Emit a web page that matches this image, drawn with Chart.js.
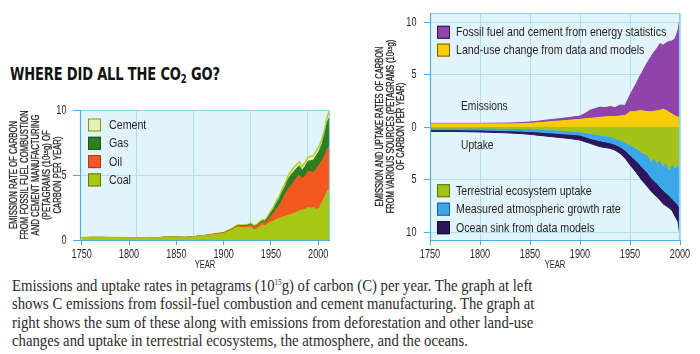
<!DOCTYPE html>
<html>
<head>
<meta charset="utf-8">
<script src="https://cdn.jsdelivr.net/npm/chart.js@4.4.1/dist/chart.umd.min.js"></script>
<style>
  body { margin: 0; background: #fff; width: 700px; height: 354px; overflow: hidden; position: relative; }
  canvas { position: absolute; }
  #c1 { left: 0; top: 95px; }
  #c2 { left: 350px; top: 0; }
  .t { position: absolute; white-space: nowrap; transform-origin: 0 0; }
  #title { left: 10px; top: 63px; font: bold 18.5px 'DejaVu Sans Condensed', sans-serif; color: #111; letter-spacing: -0.2px; }
  #title span { font-size: 12px; position: relative; top: 3px; }
  #caption { left: 12px; top: 277px; font: 16.5px 'Liberation Serif', serif; line-height: 18.4px; color: #2b2b2b; }
  #caption sup { font-size: 8px; vertical-align: 6px; line-height: 0; }
  .lab { position: absolute; font: 12.5px 'Liberation Sans', sans-serif; color: #222; transform: scaleX(0.82); transform-origin: 0 0; }
</style>
</head>
<body>
<div id="title" class="t">WHERE DID ALL THE CO<span>2</span> GO?</div>
<canvas id="c1" width="345" height="180"></canvas>
<canvas id="c2" width="350" height="275"></canvas>
<div class="lab" style="left:461px;top:99px">Emissions</div>
<div class="lab" style="left:461px;top:138px">Uptake</div>
<div id="caption" class="t">Emissions and uptake rates in petagrams (10<sup>15</sup>g) of carbon (C) per year. The graph at left<br>shows C emissions from fossil-fuel combustion and cement manufacturing. The graph at<br>right shows the sum of these along with emissions from deforestation and other land-use<br>changes and uptake in terrestrial ecosystems, the atmosphere, and the oceans.</div>
<script>
(() => {

//----- Data: left chart (PgC per year) -----//

    const yearsL = [1750, 1760, 1770, 1780, 1790, 1800, 1810, 1820, 1830, 1840, 1850, 1860, 1870, 1880, 1890,
        1900, 1905, 1910, 1913, 1916, 1920, 1925, 1929, 1932, 1935, 1938, 1941, 1944, 1947, 1950, 1953, 1956,
        1959, 1962, 1965, 1968, 1971, 1974, 1977, 1980, 1983, 1986, 1989, 1992, 1995, 1998, 2001, 2004, 2007,
        2010, 2012]
    const coal = [0.18, 0.2, 0.2, 0.19, 0.18, 0.16, 0.14, 0.13, 0.16, 0.24, 0.22, 0.2, 0.26, 0.33, 0.42,
        0.5, 0.65, 0.8, 0.95, 1.0, 0.95, 0.95, 1.0, 0.78, 0.85, 1.0, 1.15, 1.1, 1.25, 1.4, 1.45, 1.6,
        1.65, 1.75, 1.8, 1.9, 1.95, 2.05, 2.15, 2.25, 2.3, 2.35, 2.5, 2.45, 2.5, 2.35, 2.45, 2.9, 3.3,
        3.8, 3.95]
    const oil = [0, 0, 0, 0, 0, 0, 0, 0, 0, 0, 0, 0, 0.01, 0.02, 0.03,
        0.05, 0.05, 0.06, 0.06, 0.07, 0.1, 0.12, 0.15, 0.18, 0.2, 0.22, 0.2, 0.2, 0.3, 0.4, 0.6, 0.8,
        1.0, 1.3, 1.7, 2.0, 2.2, 2.4, 2.6, 2.75, 2.4, 2.55, 2.75, 2.8, 2.7, 3.1, 3.3, 3.2, 3.2,
        3.25, 3.3]
    const gas = [0, 0, 0, 0, 0, 0, 0, 0, 0, 0, 0, 0, 0, 0, 0.005,
        0.01, 0.02, 0.03, 0.04, 0.04, 0.05, 0.06, 0.07, 0.08, 0.08, 0.1, 0.12, 0.15, 0.2, 0.3, 0.35, 0.45,
        0.55, 0.65, 0.6, 0.75, 0.85, 0.8, 0.75, 0.7, 0.65, 0.75, 0.8, 0.85, 0.95, 1.05, 1.1, 1.3, 1.7,
        2.1, 2.2]
    const cement = [0, 0, 0, 0, 0, 0, 0, 0, 0, 0, 0, 0, 0, 0, 0,
        0.02, 0.03, 0.04, 0.05, 0.05, 0.05, 0.06, 0.07, 0.07, 0.08, 0.08, 0.1, 0.1, 0.12, 0.15, 0.17, 0.19,
        0.21, 0.23, 0.25, 0.27, 0.29, 0.3, 0.3, 0.3, 0.3, 0.31, 0.33, 0.34, 0.35, 0.35, 0.36, 0.38, 0.42,
        0.45, 0.5]

//----- Data: right chart (PgC per year, uptake negative) -----//

    const yearsR = [1750, 1760, 1770, 1780, 1790, 1800, 1810, 1820, 1830, 1840, 1850, 1860, 1870, 1880, 1890,
        1900, 1905, 1910, 1915, 1920, 1925, 1930, 1935, 1940, 1945, 1950, 1953, 1956, 1959, 1962, 1965,
        1968, 1971, 1974, 1977, 1980, 1983, 1986, 1989, 1992, 1995, 1998, 2000]
    const landUse = [0.3, 0.3, 0.3, 0.3, 0.3, 0.3, 0.3, 0.3, 0.3, 0.32, 0.35, 0.42, 0.5, 0.58, 0.65,
        0.73, 0.78, 0.83, 0.87, 0.92, 0.96, 1.0, 1.0, 1.05, 1.1, 1.45, 1.45, 1.5, 1.55, 1.55, 1.5,
        1.45, 1.45, 1.5, 1.55, 1.6, 1.7, 1.6, 1.4, 1.25, 1.05, 0.95, 0.83]
    const fossil = [0.05, 0.05, 0.05, 0.05, 0.05, 0.05, 0.06, 0.07, 0.08, 0.1, 0.13, 0.16, 0.2, 0.22, 0.27,
        0.32, 0.52, 0.77, 0.88, 0.98, 0.89, 0.95, 0.85, 1.05, 0.95, 1.6, 2.15, 2.6, 3.15, 3.65, 4.25,
        4.8, 5.25, 5.65, 5.95, 6.35, 6.1, 6.4, 6.75, 6.95, 7.35, 8.25, 9.52]
    const terrestrial = [-0.1, -0.1, -0.1, -0.1, -0.1, -0.1, -0.1, -0.11, -0.12, -0.13, -0.15, -0.2, -0.25, -0.3, -0.37,
        -0.45, -0.52, -0.6, -0.68, -0.75, -0.82, -0.9, -1.05, -1.25, -1.45, -1.7, -1.85, -2.0, -2.2, -2.45, -2.55,
        -2.7, -3.3, -2.9, -3.4, -3.1, -3.7, -3.3, -4.1, -3.4, -3.9, -3.6, -4.1]
    const atmosphere = [-0.15, -0.15, -0.15, -0.16, -0.17, -0.18, -0.2, -0.21, -0.23, -0.25, -0.27, -0.28, -0.3, -0.32, -0.31,
        -0.31, -0.4, -0.48, -0.52, -0.55, -0.58, -0.6, -0.6, -0.62, -0.75, -0.97, -1.05, -1.2, -1.25, -1.35, -1.55,
        -1.7, -1.5, -2.2, -1.95, -2.6, -2.3, -2.95, -2.4, -3.4, -3.2, -3.8, -3.65]
    const ocean = [-0.17, -0.17, -0.17, -0.17, -0.18, -0.19, -0.2, -0.21, -0.22, -0.24, -0.28, -0.32, -0.35, -0.38, -0.42,
        -0.48, -0.48, -0.47, -0.52, -0.57, -0.55, -0.53, -0.55, -0.63, -0.75, -0.93, -1.05, -1.1, -1.25, -1.3, -1.3,
        -1.35, -1.3, -1.3, -1.3, -1.25, -1.3, -1.25, -1.2, -1.15, -1.4, -1.6, -2.65]

//----- Styles -----//

    const sans = "'Liberation Sans', Arial, sans-serif"
    const squeeze = 0.82   // Liberation Sans squeezed to narrow proportions
    const axisBlue = '#4aaee8'
    const gridBlue = '#ade0f5'
    const plotBg = '#e2f4fb'
    const ink = '#231f20'

    function series (label, xs, ys, color, edge, fill, stack) {
        return {
            label: label,
            data: xs.map((x, i) => ({ x: x, y: ys[i] })),
            backgroundColor: color,
            borderColor: color,
            borderWidth: 1,
            legendEdge: edge,
            fill: fill,
            stack: stack,
            pointRadius: 0,
            tension: 0,
            xAxisID: 'x',
            yAxisID: 'y'
        }
    }

    function narrowText (ctx, text, x, y, align, sx, rotate) {
        ctx.save()
        ctx.translate(x, y)
        if (rotate) ctx.rotate(-Math.PI / 2)
        ctx.scale(sx, 1)
        ctx.textAlign = align
        ctx.fillText(text, 0, 0)
        ctx.restore()
    }

    // pale plot background, frame, box legends and all the narrow axis text
    const frame = {
        id: 'frame',
        beforeDraw (chart) {
            const { ctx, chartArea: a } = chart
            ctx.save()
            ctx.fillStyle = plotBg
            ctx.fillRect(a.left, a.top, a.width, a.height)
            ctx.restore()
        },
        afterDatasetsDraw (chart, args, opts) {
            const { ctx, chartArea: a } = chart
            ctx.save()
            ctx.lineWidth = 1.2
            ctx.strokeStyle = '#8fd0f0'
            ctx.beginPath()
            ctx.moveTo(a.left, a.top + 0.5)
            ctx.lineTo(a.right - 0.5, a.top + 0.5)
            ctx.lineTo(a.right - 0.5, a.bottom)
            ctx.stroke()
            ctx.strokeStyle = axisBlue
            ctx.beginPath()
            ctx.moveTo(a.left + 0.5, a.top)
            ctx.lineTo(a.left + 0.5, a.bottom + 0.5)
            ctx.lineTo(a.right, a.bottom + 0.5)
            ctx.stroke()

            ctx.lineWidth = 1
            ctx.textBaseline = 'middle'
            ;(opts.groups || []).forEach(g => {
                g.rows.forEach((idx, i) => {
                    const ds = chart.data.datasets[idx]
                    const x = a.left + g.x
                    const y = a.top + g.y + i * g.step
                    ctx.fillStyle = ds.backgroundColor
                    ctx.fillRect(x, y - 6.5, 13, 13)
                    ctx.strokeStyle = ds.legendEdge
                    ctx.strokeRect(x + 0.5, y - 6, 12, 12)
                    ctx.font = '13px ' + sans
                    ctx.fillStyle = ink
                    narrowText(ctx, ds.label, x + g.tx, y + 0.5, 'left', squeeze)
                })
            })

            // tick labels
            const xs = chart.scales.x
            const ys = chart.scales.y
            ctx.font = '12px ' + sans
            ctx.fillStyle = ink
            xs.ticks.forEach(t => narrowText(ctx, String(t.value), xs.getPixelForValue(t.value), a.bottom + 14.5, 'center', 0.76))
            ys.ticks.forEach(t => narrowText(ctx, String(Math.abs(t.value)), a.left - 13.5, ys.getPixelForValue(t.value) + 0.5, 'right', 0.76))

            // YEAR
            ctx.font = '10px ' + sans
            narrowText(ctx, 'YEAR', (a.left + a.right) / 2, a.bottom + 25.5, 'center', 0.76)

            // rotated y title, squeezed so the reference line has the measured length
            const t = opts.title
            if (t) {
                ctx.font = t.size + 'px ' + sans
                const sx = t.width / ctx.measureText(t.lines[t.fitLine]).width
                const cy = (a.top + a.bottom) / 2
                ctx.strokeStyle = ink
                ctx.lineWidth = 0.3
                t.lines.forEach((line, i) => {
                    ctx.save()
                    ctx.translate(t.x + i * t.lh, cy)
                    ctx.rotate(-Math.PI / 2)
                    ctx.scale(sx, 1)
                    ctx.textAlign = 'center'
                    ctx.fillText(line, 0, 0)
                    ctx.strokeText(line, 0, 0)
                    ctx.restore()
                })
            }
            ctx.restore()
        }
    }

    const hiddenTicks = { display: false }

//----- Left chart -----//

    new Chart(document.getElementById('c1'), {
        type: 'line',
        data: {
            datasets: [
                series('Coal', yearsL, coal, '#a8c614', '#5f7a00', 'origin', 'f'),
                series('Oil', yearsL, oil, '#f4581e', '#a63a10', '-1', 'f'),
                series('Gas', yearsL, gas, '#2e7d20', '#17500f', '-1', 'f'),
                Object.assign(series('Cement', yearsL, cement, '#e4f1b8', '#7d9612', '-1', 'f'),
                    { borderColor: '#b7d12a', borderWidth: 1.6 })
            ]
        },
        options: {
            responsive: false,
            animation: false,
            layout: { padding: { top: 15, right: 15, left: 0, bottom: 0 } },
            plugins: {
                legend: { display: false },
                tooltip: { enabled: false },
                frame: {
                    groups: [{ x: 8, y: 15, step: 18.3, tx: 21, rows: [3, 2, 1, 0] }],
                    title: {
                        x: 14.5, lh: 11, size: 10, fitLine: 1, width: 129,
                        lines: ['EMISSION RATE OF CARBON', 'FROM FOSSIL FUEL COMBUSTION', 'AND CEMENT MANUFACTURING',
                            '(PETAGRAMS (10\u00b9\u2075g) OF', 'CARBON PER YEAR)']
                    }
                }
            },
            scales: {
                x: {
                    type: 'linear', min: 1748.2, max: 2012.4,
                    afterFit: s => { s.height = 35 },
                    border: { display: false },
                    grid: { drawOnChartArea: false, tickLength: 5, tickColor: axisBlue },
                    ticks: Object.assign({ stepSize: 50, includeBounds: false }, hiddenTicks)
                },
                g: {
                    type: 'linear', position: 'bottom', min: 0, max: 4.386,
                    afterFit: s => { s.height = 0 },
                    border: { display: false },
                    grid: { color: gridBlue, drawTicks: false },
                    ticks: { display: false, stepSize: 1, includeBounds: false }
                },
                y: {
                    stacked: true, min: 0, max: 10,
                    afterFit: s => { s.width = 80 },
                    border: { display: false },
                    grid: { color: gridBlue, tickLength: 7, tickColor: axisBlue },
                    ticks: Object.assign({ stepSize: 5 }, hiddenTicks)
                }
            }
        },
        plugins: [frame]
    })

//----- Right chart -----//

    new Chart(document.getElementById('c2'), {
        type: 'line',
        data: {
            datasets: [
                series('Land-use change from data and models', yearsR, landUse, '#f7cd0a', '#7a5c00', 'origin', 'e'),
                series('Fossil fuel and cement from energy statistics', yearsR, fossil, '#8e44a8', '#3a0f4c', '-1', 'e'),
                series('Terrestrial ecosystem uptake', yearsR, terrestrial, '#a4c21a', '#5a7400', 'origin', 'u'),
                series('Measured atmospheric growth rate', yearsR, atmosphere, '#3aa7e8', '#1c5a90', '-1', 'u'),
                series('Ocean sink from data models', yearsR, ocean, '#2c175f', '#0e0628', '-1', 'u')
            ]
        },
        options: {
            responsive: false,
            animation: false,
            layout: { padding: { top: 13, right: 20, left: 0, bottom: 0 } },
            plugins: {
                legend: { display: false },
                tooltip: { enabled: false },
                frame: {
                    groups: [
                        { x: 7, y: 19.3, step: 17.8, tx: 19, rows: [1, 0] },
                        { x: 7, y: 177.7, step: 18.5, tx: 19, rows: [2, 3, 4] }
                    ],
                    title: {
                        x: 30, lh: 10.8, size: 10, fitLine: 0, width: 160,
                        lines: ['EMISSION AND UPTAKE RATES OF CARBON', 'FROM VARIOUS SOURCES (PETAGRAMS (10\u00b9\u2075g)',
                            'OF CARBON PER YEAR)']
                    }
                }
            },
            scales: {
                x: {
                    type: 'linear', min: 1750, max: 2000,
                    afterFit: s => { s.height = 35 },
                    border: { display: false },
                    grid: { color: gridBlue, tickLength: 5, tickColor: axisBlue },
                    ticks: Object.assign({ stepSize: 50 }, hiddenTicks)
                },
                y: {
                    stacked: true, min: -10.76, max: 10.86,
                    afterFit: s => { s.width = 80 },
                    border: { display: false },
                    grid: { color: gridBlue, tickLength: 6, tickColor: axisBlue },
                    ticks: Object.assign({ stepSize: 5, includeBounds: false }, hiddenTicks)
                }
            }
        },
        plugins: [frame]
    })

//----- Fit the heading and caption widths -----//

    const title = document.getElementById('title')
    title.style.transform = `scaleX(${210 / title.offsetWidth})`
    const caption = document.getElementById('caption')
    caption.style.transform = `scaleX(${522 / caption.offsetWidth})`

})();
</script>
</body>
</html>
